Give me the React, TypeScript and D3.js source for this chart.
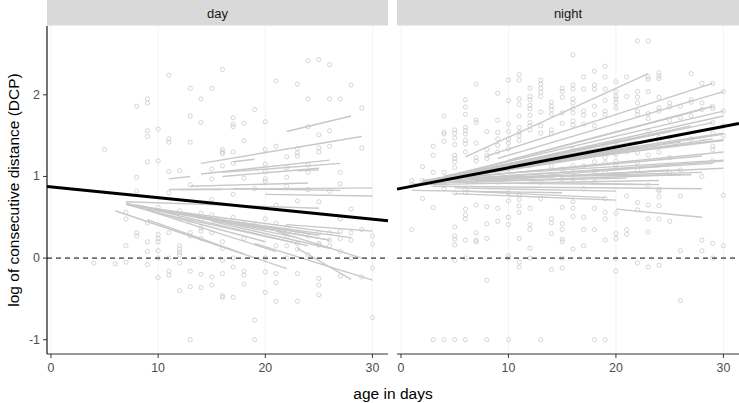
import React from "react";
import * as d3 from "d3";

// [age, log DCP] per recorded point
const dayPoints: [number, number][] = [
  [5, 1.33], [8, 1.86], [8, 0.99], [8, 0.82], [9, 1.95], [9, 1.9], [9, 1.56], [9, 1.49], [9, 1.18],
  [10, 1.58], [10, 1.19], [11, 2.24], [11, 1.46], [11, 1.42], [11, 1.06], [12, 1.07], [13, 2.08],
  [13, 1.74], [13, 1.42], [14, 1.95], [14, 1.66], [15, 2.08], [15, 1.09], [15, 0.97], [16, 2.31],
  [16, 1.33], [16, 1.3], [16, 1.28], [16, 1.13], [17, 1.72], [17, 1.64], [17, 1.61], [17, 1.3],
  [17, 1.16], [18, 1.65], [18, 1.44], [18, 0.98], [19, 1.82], [20, 1.67], [20, 1.33], [20, 1.15],
  [20, 1.06], [20, 0.97], [20, 0.94], [21, 2.17], [21, 1.37], [22, 1.24], [22, 1.11], [22, 0.99],
  [23, 2.13], [23, 1.34], [23, 1.29], [23, 1.25], [24, 2.42], [24, 1.95], [24, 1.61], [24, 1.14],
  [24, 1.05], [24, 0.84], [25, 2.43], [25, 1.51], [25, 1.35], [25, 1.3], [26, 2.37], [26, 1.95],
  [26, 1.56], [26, 1.37], [27, 1.95], [27, 1.05], [27, 0.91], [28, 2.12], [29, 1.84], [29, 1.35],
  [11, 0.8], [17, 0.78], [26, 0.82], [25, 0.69], [7, 0.56], [7, 0.48], [9, 0.43], [8, 0.31], [8, 0.27],
  [10, 0.29], [10, 0.24], [10, 0.2], [9, 0.2], [7, 0.15], [9, 0.08], [10, 0.09], [11, 0.31], [12, 0.48],
  [12, 0.15], [12, 0.11], [12, 0.07], [13, 0.45], [13, 0.31], [13, 0.27], [14, 0.47], [14, 0.37],
  [14, 0.33], [14, 0.24], [15, 0.53], [15, 0.31], [16, 0.2], [16, 0.12], [17, 0.5], [18, 0.24],
  [20, 0.48], [21, 0.43], [21, 0.15], [22, 0.38], [22, 0.27], [22, 0.15], [23, 0.31], [23, 0.18],
  [23, 0.11], [24, 0.27], [24, 0.04], [25, 0.31], [25, 0.18], [25, 0.16], [26, 0.31], [26, 0.22],
  [26, 0.15], [27, 0.48], [27, 0.33], [27, 0.24], [27, 0.08], [28, 0.31], [28, 0.22], [29, 0.35],
  [30, 0.27], [30, 0.17], [4, -0.06], [6, -0.07], [7, -0.05], [9, -0.08], [10, 0], [11, 0], [12, 0.04],
  [12, -0.06], [14, 0], [16, -0.03], [17, 0], [17, -0.11], [20, 0], [22, 0], [28, 0], [30, -0.12],
  [10, -0.24], [11, -0.16], [11, -0.21], [13, -0.16], [14, -0.2], [15, -0.23], [16, -0.19], [18, -0.16],
  [18, -0.21], [20, -0.17], [21, -0.19], [23, -0.19], [25, -0.25], [27, -0.22], [29, -0.23], [12, -0.4],
  [13, -0.35], [14, -0.36], [15, -0.33], [18, -0.32], [21, -0.3], [25, -0.33], [16, -0.46], [16, -0.48],
  [17, -0.48], [20, -0.42], [21, -0.53], [23, -0.53], [25, -0.45], [19, -0.76], [30, -0.73], [13, -1.0],
  [19, -1.0], [10, 0.62], [12, 0.58], [14, 0.55], [18, 0.42], [19, 0.4], [21, 0.65], [23, 0.7],
  [28, 0.6], [15, 0.72], [19, 0.85], [22, 0.88], [13, 0.9],
];

const nightPoints: [number, number][] = [
  [1, 0.35], [1, 0.9], [1, 0.95], [2, 1.12], [2, 0.73], [2, 0.95],
  [3, 1.37], [3, 1.26], [3, 1.05], [3, 0.62], [3, -1], [3, 0.9],
  [4, 1.74], [4, 1.54], [4, 1.52], [4, 1.43], [4, 1.05], [4, 0.89], [4, 0.85], [4, -1],
  [5, 1.57], [5, 1.53], [5, 1.47], [5, 1.39], [5, 1.26], [5, 1.22], [5, 1.18], [5, 1.11], [5, 0.8],
  [5, 0.38], [5, 0.27], [5, 0.23], [5, 0.16], [5, -0.03], [5, -1],
  [6, 1.94], [6, 1.85], [6, 1.76], [6, 1.6], [6, 1.56], [6, 1.52], [6, 1.44], [6, 1.4], [6, 1.3],
  [6, 0.84], [6, 0.8], [6, 0.6], [6, 0.53], [6, 0.48], [6, 0.22], [6, 0], [6, -1],
  [7, 2.13], [7, 1.69], [7, 1.66], [7, 1.41], [7, 1.23], [7, 1.19], [7, 0.65], [7, 0.31], [7, 0.22], [7, 0.2],
  [8, 1.55], [8, 1.33], [8, 1.26], [8, 1.22], [8, 0.99], [8, 0.63], [8, 0.42], [8, 0.24], [8, -0.27], [8, -1],
  [9, 2.02], [9, 1.69], [9, 1.54], [9, 1.46], [9, 1.38], [9, 1.3], [9, 1.05], [9, 0.93], [9, 0.61], [9, 0.45],
  [10, 2.18], [10, 1.93], [10, 1.64], [10, 1.55], [10, 1.46], [10, 1.41], [10, 1.34], [10, 1.09], [10, 0.98],
  [10, 0.8], [10, 0.7], [10, 0.5], [10, 0.41], [10, 0.03], [10, 0], [10, -1],
  [11, 2.25], [11, 2.18], [11, 1.95], [11, 1.88], [11, 1.74], [11, 1.6], [11, 1.54], [11, 1.5], [11, 1.44],
  [11, 1.0], [11, 0.78], [11, 0.72], [11, 0.64], [11, 0.56], [11, 0.24], [11, -0.05], [11, -0.11],
  [12, 2.08], [12, 1.98], [12, 1.94], [12, 1.87], [12, 1.83], [12, 1.75], [12, 1.66], [12, 1.62], [12, 1.57],
  [12, 1.13], [12, 0.97], [12, 0.61], [12, 0.41], [12, 0.35], [12, 0.12], [12, 0],
  [13, 2.18], [13, 2.13], [13, 2.08], [13, 2.03], [13, 1.98], [13, 1.79], [13, 1.62], [13, 1.53], [13, 1.05],
  [13, 0.93], [13, 0.73], [13, -1],
  [14, 1.91], [14, 1.86], [14, 1.82], [14, 1.76], [14, 1.57], [14, 1.52], [14, 1.13], [14, 1.0], [14, 0.48],
  [14, 0.43], [14, 0.3], [14, -0.14],
  [15, 2.08], [15, 2.04], [15, 1.97], [15, 1.78], [15, 1.65], [15, 1.09], [15, 0.97], [15, 0.62], [15, 0.42],
  [15, 0.35], [15, 0.23], [15, 0.2], [15, 0], [15, -0.12],
  [16, 2.49], [16, 2.12], [16, 2.07], [16, 1.95], [16, 1.9], [16, 1.83], [16, 1.78], [16, 1.68], [16, 1.63],
  [16, 1.33], [16, 1.22], [16, 1.13], [16, 1.05], [16, 0.97], [16, 0.69], [16, 0.61], [16, 0.51], [16, 0.11],
  [17, 2.22], [17, 2.07], [17, 1.8], [17, 1.75], [17, 1.64], [17, 1.26], [17, 1.13], [17, 0.96], [17, 0.85],
  [17, 0.5], [17, 0.35], [17, 0.15],
  [18, 2.29], [18, 2.12], [18, 2.07], [18, 1.86], [18, 1.76], [18, 1.62], [18, 1.29], [18, 1.18], [18, 1.06],
  [18, 0.93], [18, 0.61], [18, 0.35], [18, -1],
  [19, 2.35], [19, 2.22], [19, 2.07], [19, 1.93], [19, 1.8], [19, 1.76], [19, 1.38], [19, 1.23], [19, 1.17],
  [19, 1.06], [19, 0.73], [19, 0.56], [19, 0.48], [19, 0.22], [19, -1],
  [20, 2.16], [20, 2.04], [20, 1.98], [20, 1.95], [20, 1.9], [20, 1.84], [20, 1.42], [20, 1.27], [20, 1.19],
  [20, 1.13], [20, 0.55], [20, 0.3], [20, 0.24], [20, -0.01], [20, -0.16],
  [21, 2.22], [21, 1.98], [21, 1.3], [21, 1.02], [21, 0.76], [21, 0.35], [21, 0.29],
  [22, 2.66], [22, 2.04], [22, 1.97], [22, 1.9], [22, 1.8], [22, 1.76], [22, 1.29], [22, 1.17], [22, 1.08],
  [22, 0.68], [22, 0.59], [22, -0.06],
  [23, 2.66], [23, 2.22], [23, 2.19], [23, 2.04], [23, 1.77], [23, 1.71], [23, 1.55], [23, 1.26], [23, 0.89],
  [23, 0.65], [23, 0.48], [23, 0.32], [23, -0.11],
  [24, 2.27], [24, 2.23], [24, 2.2], [24, 1.97], [24, 1.84], [24, 1.8], [24, 1.48], [24, 1.44], [24, 1.37],
  [24, 1.3], [24, 0.84], [24, 0.82], [24, 0.75], [24, 0.64], [24, 0.48], [24, -0.09],
  [25, 1.9], [25, 1.85], [25, 1.69], [25, 1.48], [25, 1.23], [25, 1.05], [25, 0.45],
  [26, 1.86], [26, 1.72], [26, 1.08], [26, 0.76], [26, 0.09], [26, -0.52],
  [27, 2.26], [27, 1.94], [27, 1.91], [27, 1.74], [27, 1.46],
  [28, 2.14], [28, 1.9], [28, 1.82], [28, 1.46], [28, 1.0], [28, 0.22], [28, 0.09],
  [29, 2.14], [29, 1.86], [29, 1.83], [29, 1.66], [29, 1.53], [29, 1.37], [29, 1.33], [29, 1.19], [29, 0.18], [29, 0],
  [30, 2.04], [30, 1.8], [30, 1.62], [30, 1.5], [30, 0.77], [30, 0.15],
];

// individual fits: [first age, last age, fitted start, fitted end]
const dayLines: [number, number, number, number][] = [
  [22, 28, 1.55, 1.74], [14, 29, 1.16, 1.49], [17, 19, 1.18, 1.21], [14, 26, 1.03, 1.2],
  [16, 27, 1.05, 1.16], [16, 25, 1.0, 1.1], [11, 13, 0.97, 1.0], [23, 25, 1.07, 1.08],
  [12, 30, 0.84, 0.86], [13, 24, 0.88, 0.92], [11, 16, 0.84, 0.84], [20, 30, 0.78, 0.76],
  [17, 27, 0.85, 0.83], [7, 25, 0.69, 0.61], [6, 22, 0.58, -0.13], [7, 21, 0.67, 0.08],
  [7, 24, 0.67, 0.15], [7, 20, 0.66, 0.2], [8, 23, 0.65, 0.25], [8, 26, 0.64, 0.22],
  [9, 25, 0.62, 0.28], [9, 22, 0.6, 0.32], [10, 27, 0.6, 0.3], [9, 18, 0.47, 0.05],
  [12, 26, 0.55, 0.22], [13, 24, 0.52, 0.3], [14, 28, 0.5, 0.25], [11, 20, 0.58, 0.35],
  [22, 30, 0.41, 0.33], [19, 30, 0.18, -0.27], [23, 28, 0.12, -0.26], [21, 29, 0.33, 0.0],
  [15, 26, 0.45, 0.12], [10, 23, 0.55, 0.18], [7, 16, 0.67, 0.45],
];

const nightLines: [number, number, number, number][] = [
  [6, 23, 1.24, 2.26], [8, 29, 1.25, 2.14], [9, 30, 1.22, 2.04], [10, 29, 1.2, 1.86],
  [4, 30, 1.0, 1.8], [5, 28, 1.02, 1.82], [3, 30, 0.95, 1.74], [5, 29, 1.0, 1.66],
  [2, 27, 0.93, 1.62], [3, 30, 0.97, 1.6], [4, 25, 1.0, 1.55], [1, 30, 0.9, 1.52],
  [2, 26, 0.93, 1.5], [6, 30, 1.05, 1.53], [3, 22, 0.96, 1.43], [5, 24, 1.0, 1.46],
  [2, 29, 0.92, 1.46], [4, 20, 0.98, 1.35], [7, 30, 1.08, 1.45], [3, 18, 0.95, 1.3],
  [8, 26, 1.1, 1.42], [1, 24, 0.9, 1.38], [5, 22, 1.02, 1.36], [10, 30, 1.12, 1.44],
  [2, 20, 0.95, 1.28], [3, 30, 0.95, 1.3], [4, 28, 0.97, 1.25], [2, 30, 0.93, 1.19],
  [6, 29, 0.98, 1.16], [1, 25, 0.9, 1.08], [5, 30, 0.95, 1.1], [3, 26, 0.92, 1.02],
  [8, 28, 0.98, 1.05], [2, 24, 0.9, 0.95], [4, 21, 0.93, 0.98], [10, 27, 1.0, 1.02],
  [6, 23, 0.92, 0.9], [3, 28, 0.88, 0.85], [12, 24, 0.93, 0.9], [5, 20, 0.86, 0.82],
  [1, 15, 0.83, 0.8], [5, 20, 0.79, 0.71], [6, 19, 0.82, 0.74], [20, 28, 0.6, 0.5],
  [9, 26, 0.96, 1.08], [7, 25, 0.95, 1.13], [11, 30, 1.05, 1.2],
];

// overall fit per panel: [intercept, slope]
const dayFit = [0.873, -0.0132];
const nightFit = [0.854, 0.0253];

const panelNames = ["day", "night"];
const xTicks = [0, 10, 20, 30];
const yTicks = [-1, 0, 1, 2];

const W = 739;
const H = 403;
const top = 26;
const bottom = 354;
const panelX = [[47, 388], [397, 739]];
const grey = "#c4c4c4";
const font = "'Liberation Sans', Arial, sans-serif";

function Panel({ idx, points, lines, fit }: any) {
  const [x0, x1] = panelX[idx];
  const x = d3.scaleLinear().domain([-0.37, 31.45]).range([x0, x1]);
  const y = d3.scaleLinear().domain([-1.175, 2.843]).range([bottom, top]);
  const [xa, xb] = x.domain();
  return (
    <g>
      <rect x={x0} y={0} width={x1 - x0} height={top - 0.5} fill="#d9d9d9" />
      <text x={(x0 + x1) / 2} y={13.5} textAnchor="middle" dominantBaseline="central"
        fontSize={13} fill="#1a1a1a">{panelNames[idx]}</text>
      {xTicks.map(t => (
        <line key={t} x1={x(t)} x2={x(t)} y1={top} y2={bottom} stroke="#f3f3f3" strokeWidth={1} />
      ))}
      {points.map((p: number[], i: number) => (
        <circle key={i} cx={x(p[0])} cy={y(p[1])} r={2.1} fill="none" stroke={grey} strokeWidth={0.7} />
      ))}
      {lines.map((l: number[], i: number) => (
        <line key={i} x1={x(l[0])} x2={x(l[1])} y1={y(l[2])} y2={y(l[3])} stroke="#c8c8c8" strokeWidth={1.4} />
      ))}
      <line x1={x(xa)} x2={x(xb)} y1={y(0)} y2={y(0)} stroke="#000" strokeWidth={1} strokeDasharray="5,4" />
      <line x1={x(xa)} x2={x(xb)} y1={y(fit[0] + fit[1] * xa)} y2={y(fit[0] + fit[1] * xb)}
        stroke="#000" strokeWidth={3} />
      <line x1={x0} x2={x1} y1={bottom} y2={bottom} stroke="#333" strokeWidth={1.1} />
      {xTicks.map(t => (
        <g key={t}>
          <line x1={x(t)} x2={x(t)} y1={bottom} y2={bottom + 4} stroke="#333" />
          <text x={x(t)} y={bottom + 14} textAnchor="middle" dominantBaseline="central"
            fontSize={12.4} fill="#4d4d4d">{t}</text>
        </g>
      ))}
      {idx === 0 && (
        <g>
          <line x1={x0} x2={x0} y1={top} y2={bottom} stroke="#000" strokeWidth={1.1} />
          {yTicks.map(t => (
            <g key={t}>
              <line x1={x0 - 4} x2={x0} y1={y(t)} y2={y(t)} stroke="#333" />
              <text x={x0 - 7} y={y(t)} textAnchor="end" dominantBaseline="central"
                fontSize={12.4} fill="#4d4d4d">{t}</text>
            </g>
          ))}
        </g>
      )}
    </g>
  );
}

export default function App() {
  return (
    <svg width={W} height={H} style={{ position: "absolute", left: 0, top: 0, background: "#fff" }}
      fontFamily={font}>
      <rect width={W} height={H} fill="#fff" />
      <Panel idx={0} points={dayPoints} lines={dayLines} fit={dayFit} />
      <Panel idx={1} points={nightPoints} lines={nightLines} fit={nightFit} />
      <text x={393} y={393} textAnchor="middle" dominantBaseline="central" fontSize={15.5} fill="#000">
        age in days
      </text>
      <text transform={`translate(13,${(top + bottom) / 2}) rotate(-90)`} textAnchor="middle"
        dominantBaseline="central" fontSize={15.5} fill="#000">
        log of consecutive distance (DCP)
      </text>
    </svg>
  );
}
